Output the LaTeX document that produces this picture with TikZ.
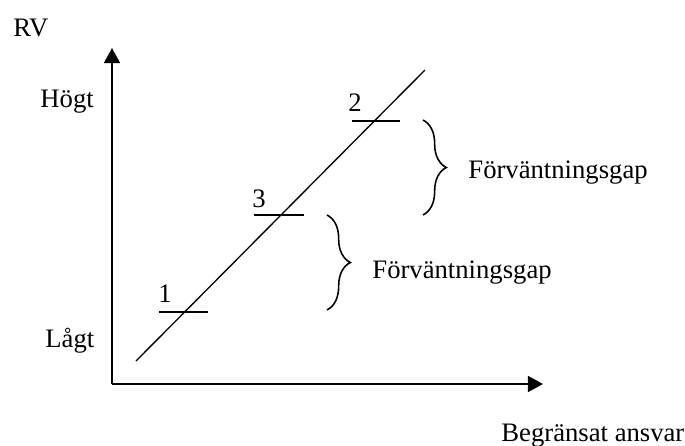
\documentclass[tikz,border=0pt]{standalone}
\usepackage{fontspec}
\setmainfont{Liberation Serif}
\usetikzlibrary{arrows.meta, positioning, decorations.pathreplacing}

\begin{document}
\begin{tikzpicture}[x=0.45pt, y=-0.45pt, font=\fontsize{12}{14}\selectfont]
	
	% --- STYLES ---
	\tikzstyle{axis} = [line width=0.8pt, -{Triangle[length=6.8pt, width=7.2pt]}]
	\tikzstyle{line} = [line width=0.6pt]
	\tikzstyle{level} = [line width=0.6pt]
	\tikzstyle{gap} = [line width=0.7pt, decorate, decoration={brace, amplitude=10.5pt}]
	\tikzstyle{lbl} = [inner sep=0pt, anchor=base west]
	
	\useasboundingbox (0,0) rectangle (685,446);
	
	% --- AXES ---
	\coordinate (origin) at (112,384);
	\coordinate (ytop) at (112,48);
	\coordinate (xend) at (543,384);
	\draw [axis] (origin) -- (ytop);
	\draw [axis] (origin) -- (xend);
	
	% --- LINE ---
	\coordinate (start) at (136,361);
	\coordinate (stop) at (425,70);
	\draw [line] (start) -- (stop);
	
	% --- LEVELS ---
	\coordinate (l1a) at (159,312);
	\coordinate (l1b) at (208,312);
	\coordinate (l3a) at (254,215);
	\coordinate (l3b) at (304,215);
	\coordinate (l2a) at (352,121);
	\coordinate (l2b) at (400,121);
	\draw [level] (l1a) -- (l1b);
	\draw [level] (l3a) -- (l3b);
	\draw [level] (l2a) -- (l2b);
	
	\node (n1) [lbl] at (158,302) {1};
	\node (n3) [lbl] at (252,207) {3};
	\node (n2) [lbl] at (348,111) {2};
	
	% --- BRACES ---
	\coordinate (g1top) at (423,120);
	\coordinate (g1bot) at (423,215);
	\coordinate (g2top) at (327,215);
	\coordinate (g2bot) at (327,310);
	\draw [gap] (g1top) -- (g1bot);
	\draw [gap] (g2top) -- (g2bot);
	
	\node (gap1) [lbl] at (468,178) {Förväntningsgap};
	\node (gap2) [lbl] at (372,278) {Förväntningsgap};
	
	% --- AXIS LABELS ---
	\node (rv) [lbl] at (13,36) {RV};
	\node (hogt) [lbl] at (40,107) {Högt};
	\node (lagt) [lbl] at (45,347) {Lågt};
	\node (ansvar) [lbl] at (501,441) {Begränsat ansvar};
	
\end{tikzpicture}
\end{document}
